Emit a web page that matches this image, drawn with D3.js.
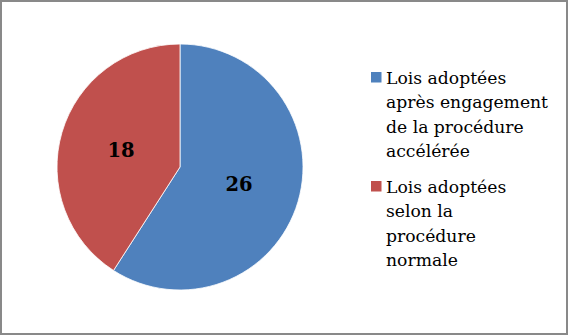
<!DOCTYPE html>
<html>
<head>
<meta charset="utf-8">
<script src="https://cdn.jsdelivr.net/npm/d3@7"></script>
<style>
  html, body { margin: 0; padding: 0; background: #fff; }
  svg { display: block; }
</style>
</head>
<body>
<svg id="chart" width="568" height="335"></svg>
<script>
// Laws adopted, by procedure
const categories = [
  ["Lois adoptées", "après engagement", "de la procédure", "accélérée"],
  ["Lois adoptées", "selon la", "procédure", "normale"]
];
const values = [26, 18];
const colors = ["#4F81BD", "#C0504D"];

const svg = d3.select("#chart");
const W = 568, H = 335;

// frame
svg.append("rect")
  .attr("x", 1).attr("y", 1)
  .attr("width", W - 2).attr("height", H - 2)
  .attr("fill", "#fff")
  .attr("stroke", "#898989")
  .attr("stroke-width", 2);

const cx = 180, cy = 167, R = 123;
const data = values.map((v, i) => ({ value: v, label: categories[i], color: colors[i] }));

const pie = d3.pie().value(d => d.value).sort(null);
const arc = d3.arc().innerRadius(0).outerRadius(R);
const arcs = pie(data);

const g = svg.append("g").attr("transform", `translate(${cx},${cy})`);

g.selectAll("path.slice")
  .data(arcs)
  .join("path")
  .attr("class", "slice")
  .attr("d", arc)
  .attr("fill", d => d.data.color)
  .attr("stroke", "#fff")
  .attr("stroke-width", 0.8);

g.selectAll("text.val")
  .data(arcs)
  .join("text")
  .attr("class", "val")
  .attr("transform", d => {
    const [x, y] = arc.centroid(d);
    return `translate(${x},${y})`;
  })
  .attr("text-anchor", "middle")
  .attr("dy", "0.35em")
  .attr("font-family", "'DejaVu Serif', serif")
  .attr("font-weight", "bold")
  .attr("font-size", 19.5)
  .attr("fill", "#000")
  .text(d => d.data.value);

// legend
const legend = svg.append("g").attr("transform", "translate(371,72)");
const itemOffsets = [0, 109];
const lineH = 24.6;

const items = legend.selectAll("g.item")
  .data(data)
  .join("g")
  .attr("class", "item")
  .attr("transform", (d, i) => `translate(0,${itemOffsets[i]})`);

items.append("rect")
  .attr("width", 10.5).attr("height", 10.5)
  .attr("fill", d => d.color);

items.append("text")
  .attr("x", 15)
  .attr("y", 11.5)
  .attr("font-family", "'DejaVu Serif', serif")
  .attr("font-size", 17.2)
  .attr("fill", "#000")
  .selectAll("tspan")
  .data(d => d.label)
  .join("tspan")
  .attr("x", 15)
  .attr("dy", (d, i) => i === 0 ? 0 : lineH)
  .text(d => d);
</script>
</body>
</html>
